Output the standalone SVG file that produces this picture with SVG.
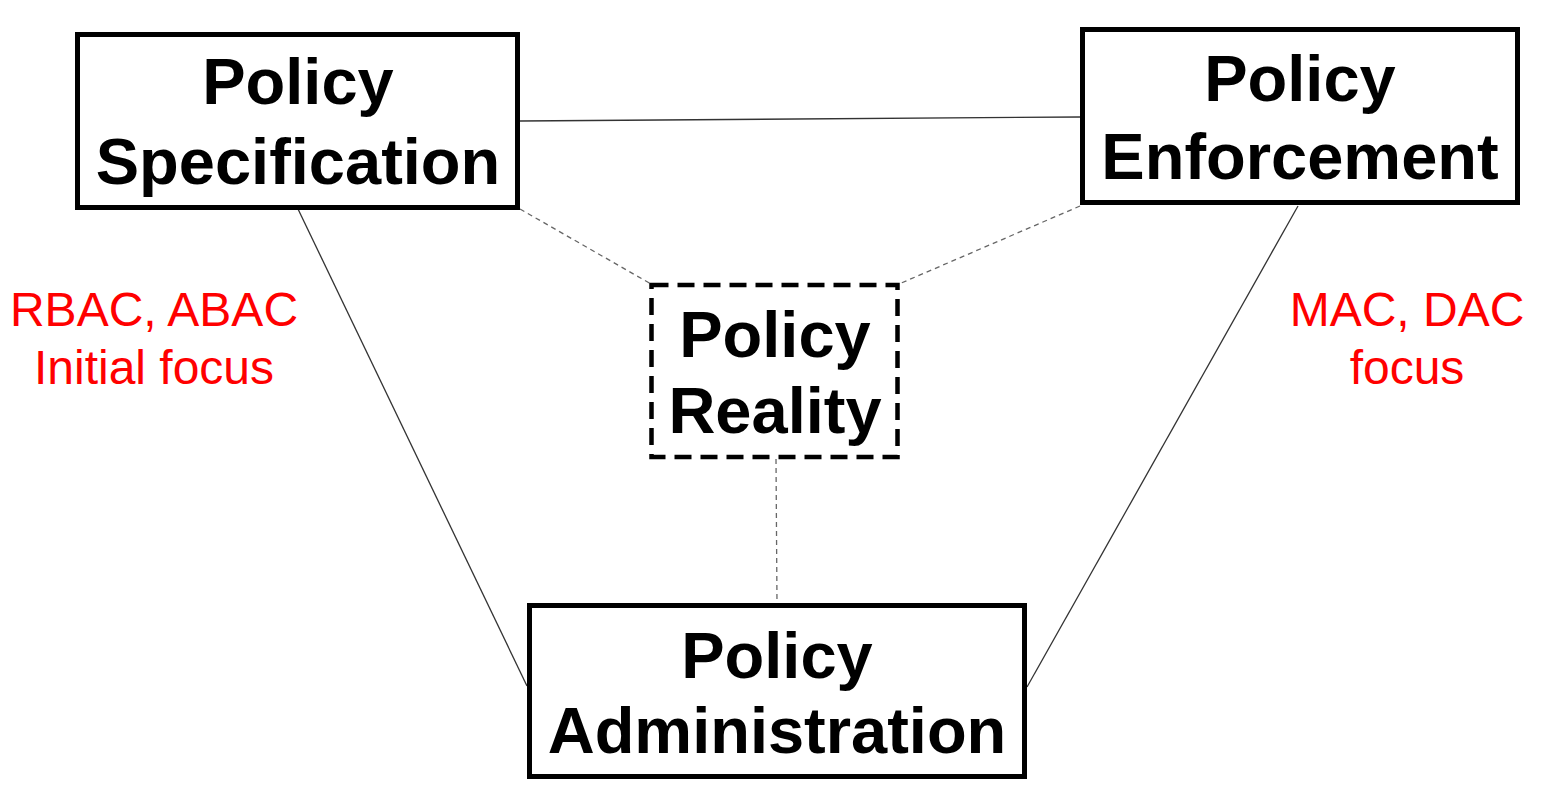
<svg xmlns="http://www.w3.org/2000/svg" width="1548" height="810" viewBox="0 0 1548 810">
  <style>
    .box { fill: #ffffff; stroke: #000000; stroke-width: 5; }
    .dbox { fill: #ffffff; stroke: #000000; stroke-width: 4.5; stroke-dasharray: 17 9; }
    .lbl { font-family: "Liberation Sans", Arial, sans-serif; font-weight: bold; font-size: 65px; fill: #000000; text-anchor: middle; }
    .red { font-family: "Liberation Sans", Arial, sans-serif; font-size: 48px; fill: #ff0000; text-anchor: middle; }
    .solid { stroke: #333333; stroke-width: 1.3; fill: none; }
    .dash { stroke: #666666; stroke-width: 1.3; stroke-dasharray: 5 4; fill: none; }
  </style>
  <rect width="1548" height="810" fill="#ffffff"/>
  <g id="connectors">
    <line class="solid" x1="520" y1="121" x2="1080" y2="117"/>
    <line class="solid" x1="298" y1="209" x2="527" y2="686"/>
    <line class="solid" x1="1298" y1="206" x2="1027" y2="687"/>
    <line class="dash" x1="520" y1="209" x2="651" y2="284"/>
    <line class="dash" x1="1080" y1="206" x2="899" y2="284"/>
    <line class="dash" x1="776" y1="459" x2="777" y2="604"/>
  </g>
  <g id="spec">
    <rect class="box" x="77.5" y="34.5" width="440" height="173"/>
    <text class="lbl" x="298" y="104">Policy</text>
    <text class="lbl" x="298" y="184" font-size="66">Specification</text>
  </g>
  <g id="enforce">
    <rect class="box" x="1082.5" y="29.5" width="435" height="173"/>
    <text class="lbl" x="1300" y="101">Policy</text>
    <text class="lbl" x="1300" y="179" font-size="66">Enforcement</text>
  </g>
  <g id="reality">
    <rect class="dbox" x="651.5" y="285" width="246" height="172"/>
    <text class="lbl" x="775" y="357">Policy</text>
    <text class="lbl" x="775" y="433">Reality</text>
  </g>
  <g id="admin">
    <rect class="box" x="529.5" y="605.5" width="495" height="171"/>
    <text class="lbl" x="777" y="678">Policy</text>
    <text class="lbl" x="777" y="753" font-size="66">Administration</text>
  </g>
  <g id="notes">
    <text class="red" x="154" y="326">RBAC, ABAC</text>
    <text class="red" x="154" y="384">Initial focus</text>
    <text class="red" x="1407" y="326">MAC, DAC</text>
    <text class="red" x="1407" y="384">focus</text>
  </g>
</svg>
